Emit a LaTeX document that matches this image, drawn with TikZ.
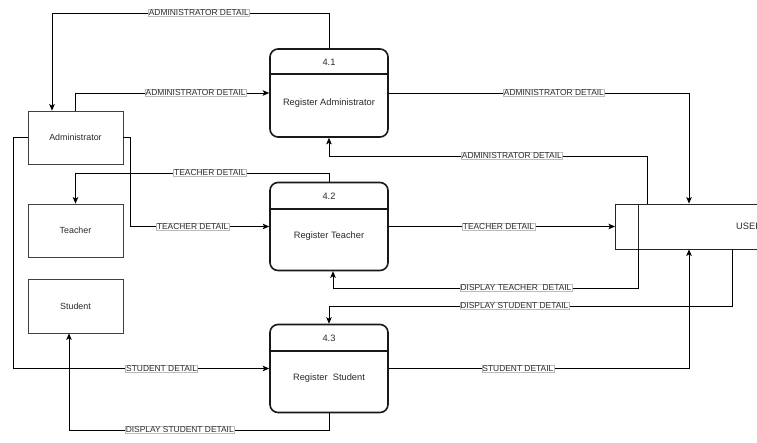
\documentclass[tikz,border=0pt]{standalone}
\usepackage{fontspec}
\setmainfont{Liberation Sans}
\usetikzlibrary{arrows.meta,calc}
\definecolor{lblborder}{HTML}{BBBBBB}
\definecolor{txtcol}{HTML}{2A2A2A}
\tikzset{
  entity/.style={draw=black!75, line width=0.8pt, minimum width=95pt, minimum height=53pt, inner sep=0pt, font=\fontsize{8.9}{10}\selectfont, text=txtcol},
  proc/.style={draw=black!90, line width=1.6pt, rounded corners=8pt, minimum width=118pt, minimum height=88pt, inner sep=0pt},
  ptext/.style={font=\fontsize{9.3}{10}\selectfont, text=txtcol, inner sep=0pt},
  flow/.style={line width=0.8pt, -{Stealth[length=6.5pt,width=5.5pt,inset=1.5pt]}},
  lbl/.style={draw=lblborder, line width=0.4pt, fill=white, inner sep=0.6pt, font=\fontsize{8.4}{9}\selectfont, text=txtcol},
  store/.style={draw=black!85, line width=0.8pt, minimum width=230pt, minimum height=45pt, inner sep=0pt, anchor=west}
}
\begin{document}
\begin{tikzpicture}[x=1pt,y=-1pt]
\useasboundingbox (0,0) rectangle (757,442);
\clip (0,0) rectangle (757,442);
\fill[white] (0,0) rectangle (757,442);

% external entities
\node[entity] (admin) at (75.5,137.5) {Administrator};
\node[entity] (teacher) at (75.5,230.5) {Teacher};
\node[entity, minimum height=54pt] (student) at (75.5,306) {Student};

% processes
\node[proc] (p1) at (329,93) {};
\draw[line width=1.6pt, black!90] ([yshift=-26pt]p1.north west) -- ([yshift=-26pt]p1.north east);
\node[ptext] (p1n) at (329,62) {4.1};
\node[ptext] (p1t) at (329,103) {Register Administrator};

\node[proc] (p2) at (329,226.5) {};
\draw[line width=1.6pt, black!90] ([yshift=-27pt]p2.north west) -- ([yshift=-27pt]p2.north east);
\node[ptext] (p2n) at (329,196) {4.2};
\node[ptext] (p2t) at (329,236) {Register Teacher};

\node[proc] (p3) at (329,368.5) {};
\draw[line width=1.6pt, black!90] ([yshift=-27pt]p3.north west) -- ([yshift=-27pt]p3.north east);
\node[ptext] (p3n) at (329,338) {4.3};
\node[ptext] (p3t) at (329,378) {Register\ \ Student};

% data store
\node[store] (user) at (615,226.5) {};
\draw[line width=0.8pt, black!85] ([xshift=23pt]user.north west) -- ([xshift=23pt]user.south west);
\node[ptext, anchor=west] (usert) at (736,226.5) {USER};

% flows
\draw[flow] (p1.north) -- (329,13) -- node[lbl,pos=0.47]{ADMINISTRATOR DETAIL} (52,13) -- (52,13 |- admin.north);
\draw[flow] (admin.north) -- (admin.north |- p1.west) -- node[lbl,pos=0.62]{ADMINISTRATOR DETAIL} (p1.west);
\draw[flow] (p1.east) -- node[lbl,pos=0.55]{ADMINISTRATOR DETAIL} (689,93) -- (689,93 |- user.north);
\draw[flow] (647,0 |- user.north) -- (647,156) -- node[lbl,pos=0.425]{ADMINISTRATOR DETAIL} (329,156) -- (p1.south);

\draw[flow] (p2.north) -- (329,173) -- node[lbl,pos=0.47]{TEACHER DETAIL} (75.5,173) -- (teacher.north);
\draw[flow] (admin.east) -- (130,137.5) -- (130,226.5) -- node[lbl,pos=0.45]{TEACHER DETAIL} (p2.west);
\draw[flow] (p2.east) -- node[lbl,pos=0.485]{TEACHER DETAIL} (user.west);
\draw[flow] (638,0 |- user.south) -- (638,288) -- node[lbl,pos=0.40]{DISPLAY TEACHER\ \ DETAIL} (333,288) -- (333,0 |- p2.south);

\draw[flow] (732,0 |- user.south) -- (732,306) -- node[lbl,pos=0.54]{DISPLAY STUDENT DETAIL} (329,306) -- (p3.north);
\draw[flow] (admin.west) -- (13,137.5) -- (13,368.5) -- node[lbl,pos=0.58]{STUDENT DETAIL} (p3.west);
\draw[flow] (p3.east) -- node[lbl,pos=0.43]{STUDENT DETAIL} (689,368.5) -- (689,0 |- user.south);
\draw[flow] (p3.south) -- (329,430) -- node[lbl,pos=0.574]{DISPLAY STUDENT DETAIL} (69,430) -- (69,0 |- student.south);
\end{tikzpicture}
\end{document}
